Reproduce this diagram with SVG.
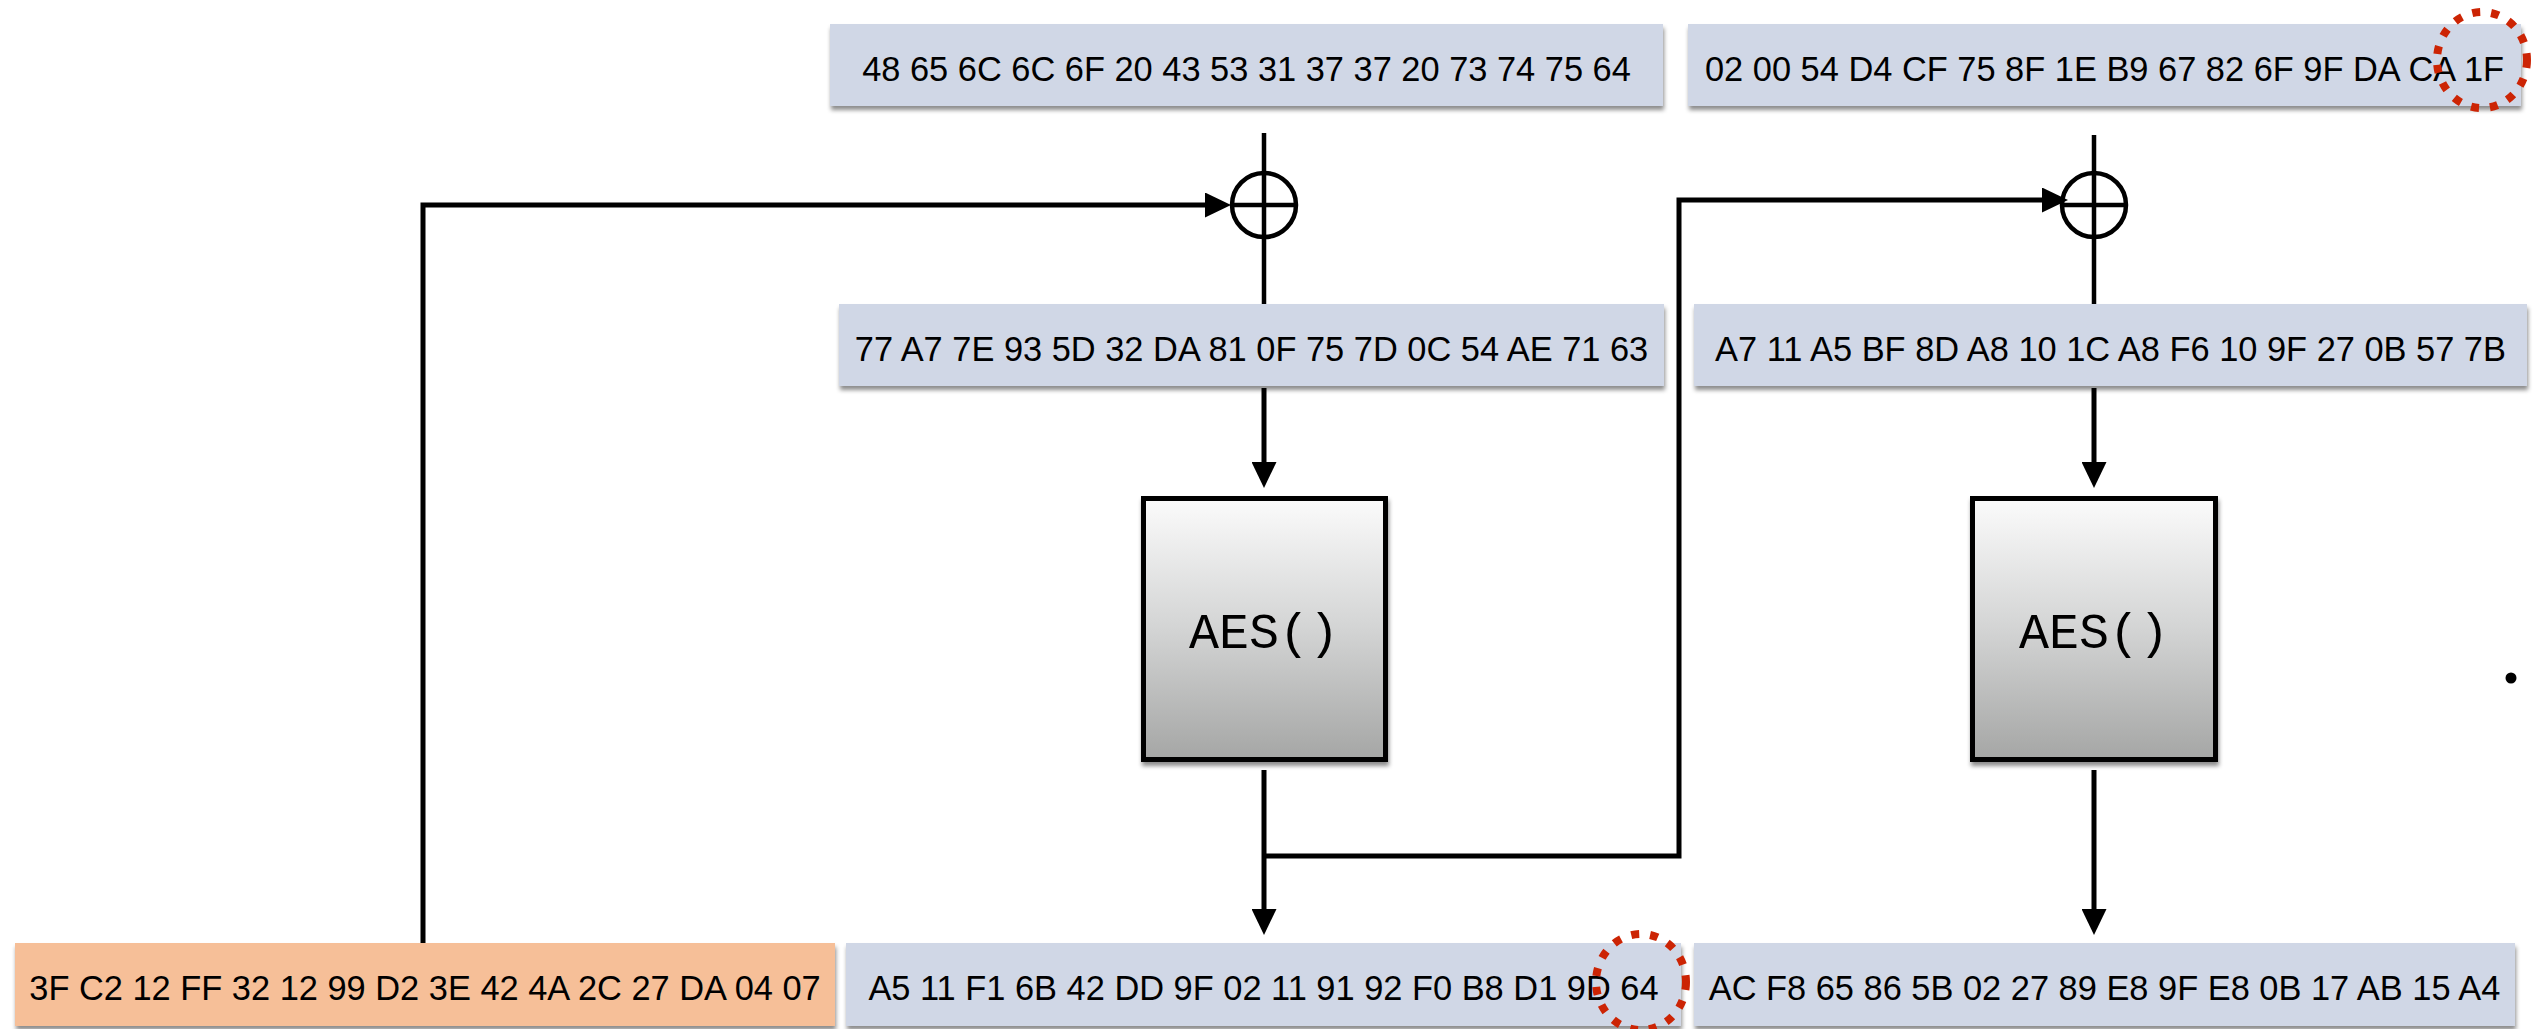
<svg xmlns="http://www.w3.org/2000/svg" width="2544" height="1029" viewBox="0 0 2544 1029">
  <style>
    .blk { fill: #d0d7e6; filter: url(#sh); }
    .key { fill: #f6bf98; filter: url(#sh); }
    .hex { font-family: "Liberation Sans", Arial, Helvetica, sans-serif; font-size: 34.4px; fill: #000; text-anchor: middle; }
    .aes { fill: url(#g); stroke: #000; stroke-width: 5; filter: url(#sh); }
    .aesT { font-family: "Liberation Mono", "Courier New", monospace; font-size: 50px; fill: #000; text-anchor: middle; }
    .ln { fill: none; stroke: #000; stroke-width: 4.5; stroke-linejoin: miter; }
    .ar { fill: none; stroke: #000; stroke-width: 5; stroke-linejoin: miter; marker-end: url(#arr); }
    .xor { fill: none; stroke: #000; stroke-width: 4.5; }
    .mark { fill: none; stroke: #cc2404; stroke-width: 8; stroke-dasharray: 8 11; }
  </style>
  <defs>
    <filter id="sh" x="-5%" y="-20%" width="110%" height="150%">
      <feDropShadow dx="1" dy="4" stdDeviation="2.2" flood-color="#000" flood-opacity="0.45"/>
    </filter>
    <linearGradient id="g" x1="0" y1="0" x2="0" y2="1">
      <stop offset="0" stop-color="#fbfbfb"/>
      <stop offset="0.5" stop-color="#d3d4d4"/>
      <stop offset="1" stop-color="#a5a6a5"/>
    </linearGradient>
    <marker id="arr" viewBox="0 0 26 25" refX="14" refY="12.5" markerWidth="26" markerHeight="25" markerUnits="userSpaceOnUse" orient="auto">
      <path d="M0,0 L26,12.5 L0,25 Z" fill="#000"/>
    </marker>
  </defs>
  <rect width="2544" height="1029" fill="#fff"/>

  <g id="connectors">
    <path class="ln" d="M1264,133 V304"/>
    <path class="ln" d="M2094,135 V304"/>
    <path class="ar" d="M423,943 V205 H1219"/>
    <path class="ar" d="M1264,388 V476"/>
    <path class="ar" d="M2094,388 V476"/>
    <path class="ar" d="M1264,770 V923"/>
    <path class="ar" d="M2094,770 V923"/>
    <path class="ar" d="M1264,856 H1679 V200 H2056"/>
  </g>

  <g id="xor1">
    <circle class="xor" cx="1264" cy="205" r="32"/>
    <path class="xor" d="M1232,205 H1296"/>
  </g>
  <g id="xor2">
    <circle class="xor" cx="2094" cy="205" r="32"/>
    <path class="xor" d="M2062,205 H2126"/>
  </g>

  <g id="p1">
    <rect class="blk" x="830" y="24" width="833" height="82"/>
    <text class="hex" x="1246.5" y="81">48 65 6C 6C 6F 20 43 53 31 37 37 20 73 74 75 64</text>
  </g>
  <g id="p2">
    <rect class="blk" x="1688" y="24" width="833" height="82"/>
    <text class="hex" x="2104.5" y="81">02 00 54 D4 CF 75 8F 1E B9 67 82 6F 9F DA CA 1F</text>
  </g>
  <g id="x1">
    <rect class="blk" x="839" y="304" width="825" height="82"/>
    <text class="hex" x="1251.5" y="361">77 A7 7E 93 5D 32 DA 81 0F 75 7D 0C 54 AE 71 63</text>
  </g>
  <g id="x2">
    <rect class="blk" x="1694" y="304" width="833" height="82"/>
    <text class="hex" x="2110.5" y="361">A7 11 A5 BF 8D A8 10 1C A8 F6 10 9F 27 0B 57 7B</text>
  </g>
  <g id="aes1">
    <rect class="aes" x="1143.5" y="498.5" width="242" height="261"/>
    <text class="aesT" x="1264" y="648">AES()</text>
  </g>
  <g id="aes2">
    <rect class="aes" x="1972.5" y="498.5" width="243" height="261"/>
    <text class="aesT" x="2094" y="648">AES()</text>
  </g>
  <g id="iv">
    <rect class="key" x="15" y="943" width="820" height="83"/>
    <text class="hex" x="425" y="1000">3F C2 12 FF 32 12 99 D2 3E 42 4A 2C 27 DA 04 07</text>
  </g>
  <g id="c1">
    <rect class="blk" x="846" y="943" width="835" height="83"/>
    <text class="hex" x="1263.5" y="1000">A5 11 F1 6B 42 DD 9F 02 11 91 92 F0 B8 D1 9D 64</text>
  </g>
  <g id="c2">
    <rect class="blk" x="1694" y="943" width="821" height="83"/>
    <text class="hex" x="2104.5" y="1000">AC F8 65 86 5B 02 27 89 E8 9F E8 0B 17 AB 15 A4</text>
  </g>

  <g id="marks">
    <ellipse class="mark" cx="2482" cy="60" rx="45" ry="48"/>
    <ellipse class="mark" cx="1641" cy="982" rx="45" ry="48"/>
  </g>
  <circle cx="2511" cy="678" r="5.5" fill="#000"/>
</svg>
